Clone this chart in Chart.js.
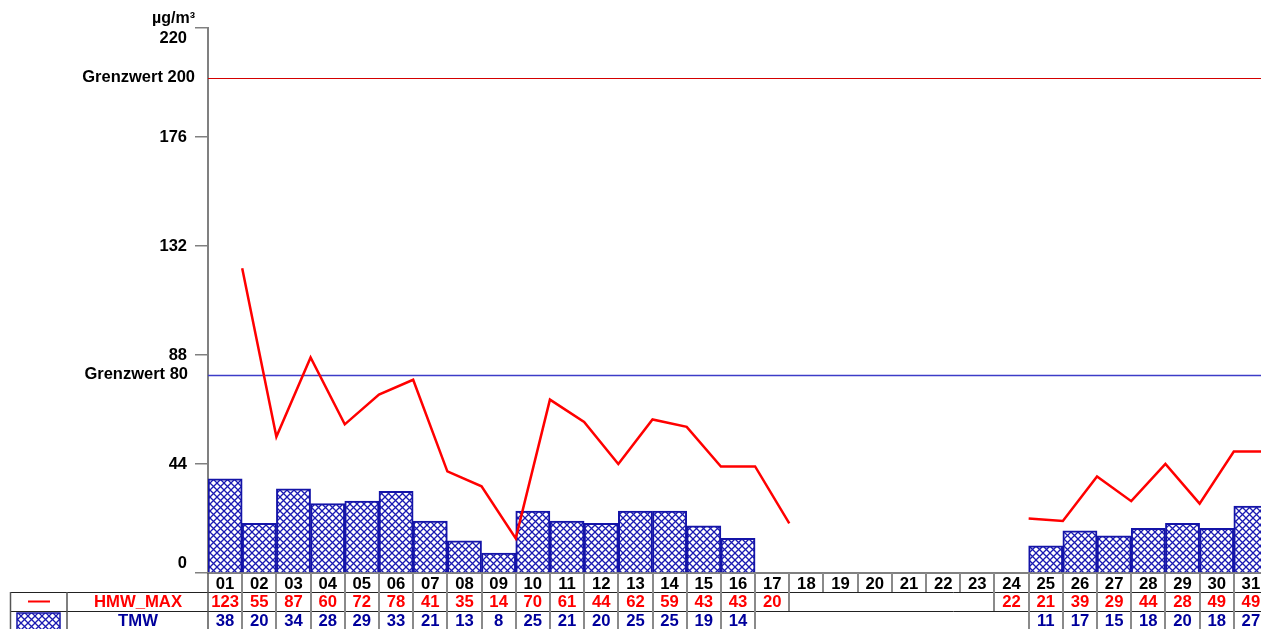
<!DOCTYPE html>
<html>
<head>
<meta charset="utf-8">
<script src="https://cdn.jsdelivr.net/npm/chart.js@4/dist/chart.umd.min.js"></script>
<style>
  html, body { margin: 0; padding: 0; overflow: hidden; background: #fff; }
</style>
</head>
<body>
<canvas id="grafikMonat" width="1268" height="629"></canvas>
<script>
// Daten (Tage des Monats)
const tage = ['01','02','03','04','05','06','07','08','09','10','11','12','13','14','15','16',
              '17','18','19','20','21','22','23','24','25','26','27','28','29','30','31'];
const hmwMax = [123, 55, 87, 60, 72, 78, 41, 35, 14, 70, 61, 44, 62, 59, 43, 43,
                20, null, null, null, null, null, null, 22, 21, 39, 29, 44, 28, 49, 49];
const tmw = [38, 20, 34, 28, 29, 33, 21, 13, 8, 25, 21, 20, 25, 25, 19, 14,
             null, null, null, null, null, null, null, null, 11, 17, 15, 18, 20, 18, 27];
const yTicks = [0, 44, 88, 132, 176, 220];
const grenzWerte = [200, 80];
const grenzTexte = ['Grenzwert 200', 'Grenzwert 80'];

const FONT_ACHSE = 'bold 16.5px "Liberation Sans", Arial, sans-serif';
const FONT_TAB = 'bold 16.7px "Liberation Sans", Arial, sans-serif';
const ROT = '#ff0000';
const BLAU = '#00009c';
const RAND = '#1414a8';

// Kreuzschraffur fuer die Balken
function schraffur() {
  const s = 7;
  const c = document.createElement('canvas');
  c.width = c.height = s;
  const g = c.getContext('2d');
  g.fillStyle = '#fff';
  g.fillRect(0, 0, s, s);
  g.strokeStyle = '#1a1ab2';
  g.lineWidth = 1.3;
  g.beginPath();
  g.moveTo(0, 0); g.lineTo(s, s);
  g.moveTo(s, 0); g.lineTo(0, s);
  g.stroke();
  return g.createPattern(c, 'repeat');
}
const muster = schraffur();

// Grenzwertlinien, Achsenbeschriftung und Tabelle unten
const zusatz = {
  id: 'zusatz',
  beforeDatasetsDraw(chart) {
    const { ctx, chartArea: a, scales: { y } } = chart;
    ctx.save();
    grenzWerte.forEach((w, i) => {
      const py = Math.round(y.getPixelForValue(w)) + 0.5;
      ctx.strokeStyle = i === 0 ? '#d40000' : '#3c3cc8';
      ctx.lineWidth = i === 0 ? 1 : 1.5;
      ctx.beginPath();
      ctx.moveTo(a.left, py);
      ctx.lineTo(a.right, py);
      ctx.stroke();
    });
    ctx.restore();
  },
  afterDraw(chart) {
    const { ctx, chartArea: a, scales: { x, y } } = chart;
    ctx.save();
    ctx.font = FONT_ACHSE;
    ctx.textBaseline = 'middle';

    // y-Beschriftung
    ctx.fillStyle = '#000';
    ctx.textAlign = 'right';
    yTicks.forEach((v, i) => {
      let py = y.getPixelForValue(v);
      if (i === 0) py -= 10;
      if (i === yTicks.length - 1) py += 10;
      ctx.fillText(String(v), 187, py);
    });
    grenzWerte.forEach((w, i) => {
      ctx.fillText(grenzTexte[i], i === 0 ? 195 : 188, y.getPixelForValue(w));
    });
    ctx.font = 'bold 16px "Liberation Sans", Arial, sans-serif';
    ctx.fillText('µg/m³', 195, 19);
    ctx.font = FONT_TAB;

    // Tabelle
    const w = (a.right - a.left) / tage.length;
    const r0 = a.bottom, r1 = r0 + 19, r2 = r1 + 19, r3 = r2 + 19;
    const links = (i) => x.getPixelForValue(i) - w / 2;

    // waagrechte Linien
    ctx.strokeStyle = '#222';
    ctx.lineWidth = 1;
    [r1, r2].forEach(r => {
      ctx.beginPath();
      ctx.moveTo(10, r + 0.5);
      ctx.lineTo(chart.width, r + 0.5);
      ctx.stroke();
    });
    // Legendenspalte
    ctx.strokeStyle = '#555';
    ctx.lineWidth = 1.5;
    [10.5, 67, 208].forEach(px => {
      ctx.beginPath();
      ctx.moveTo(px, r1);
      ctx.lineTo(px, r3);
      ctx.stroke();
    });
    ctx.beginPath();
    ctx.moveTo(208, r0);
    ctx.lineTo(208, r1);
    ctx.stroke();

    // senkrechte Trenner
    ctx.strokeStyle = '#8a8a8a';
    ctx.lineWidth = 2;
    const hat = (arr, i) => i >= 0 && i < arr.length && arr[i] !== null;
    for (let i = 1; i <= tage.length; i++) {
      const px = Math.round(links(0) + i * w);
      ctx.beginPath(); ctx.moveTo(px, r0); ctx.lineTo(px, r1); ctx.stroke();
      if (hat(hmwMax, i - 1) || hat(hmwMax, i)) {
        ctx.beginPath(); ctx.moveTo(px, r1); ctx.lineTo(px, r2); ctx.stroke();
      }
      if (hat(tmw, i - 1) || hat(tmw, i)) {
        ctx.beginPath(); ctx.moveTo(px, r2); ctx.lineTo(px, r3); ctx.stroke();
      }
    }

    // Texte
    ctx.textAlign = 'center';
    tage.forEach((t, i) => {
      const cx = x.getPixelForValue(i);
      ctx.fillStyle = '#000';
      ctx.fillText(t, cx, r0 + 11);
      if (hmwMax[i] !== null) { ctx.fillStyle = ROT; ctx.fillText(String(hmwMax[i]), cx, r1 + 10.5); }
      if (tmw[i] !== null) { ctx.fillStyle = BLAU; ctx.fillText(String(tmw[i]), cx, r2 + 10.5); }
    });
    ctx.fillStyle = ROT;
    ctx.fillText('HMW_MAX', 138, r1 + 10.5);
    ctx.fillStyle = BLAU;
    ctx.fillText('TMW', 138, r2 + 10.5);

    // Legendensymbole
    ctx.strokeStyle = ROT;
    ctx.lineWidth = 2;
    ctx.beginPath(); ctx.moveTo(28, r1 + 9.5); ctx.lineTo(50, r1 + 9.5); ctx.stroke();
    ctx.fillStyle = muster;
    ctx.fillRect(17, r2 + 2, 43, 17);
    ctx.strokeStyle = RAND;
    ctx.lineWidth = 1.5;
    ctx.strokeRect(17, r2 + 2, 43, 17);
    ctx.restore();
  }
};

new Chart(document.getElementById('grafikMonat'), {
  data: {
    labels: tage,
    datasets: [
      {
        type: 'line',
        label: 'HMW_MAX',
        data: hmwMax.map((v, i) => ({ x: i + 1, y: v })),
        xAxisID: 'x2',
        borderColor: ROT,
        borderWidth: 2.5,
        pointRadius: 0,
        spanGaps: false,
        tension: 0,
        order: 0
      },
      {
        type: 'bar',
        label: 'TMW',
        data: tmw,
        xAxisID: 'x',
        backgroundColor: muster,
        borderColor: RAND,
        borderWidth: 2,
        grouped: false,
        categoryPercentage: 1,
        barPercentage: 1,
        order: 1
      }
    ]
  },
  options: {
    responsive: false,
    animation: false,
    layout: { padding: { top: 28, bottom: 56, left: 0, right: 0 } },
    scales: {
      x: {
        type: 'category',
        offset: true,
        ticks: { display: false },
        grid: { display: false },
        border: { color: '#808080', width: 2 },
        afterFit: (s) => { s.height = 0; }
      },
      x2: {
        type: 'linear',
        min: 0,
        max: 31,
        display: false,
        offset: false
      },
      y: {
        min: 0,
        max: 220,
        afterBuildTicks: (s) => { s.ticks = yTicks.map(v => ({ value: v })); },
        ticks: { display: false },
        grid: { drawOnChartArea: false, tickLength: 13, color: '#808080', lineWidth: 1.5 },
        border: { color: '#808080', width: 2 },
        afterFit: (s) => { s.width = 208; }
      }
    },
    plugins: {
      legend: { display: false },
      tooltip: { enabled: false }
    }
  },
  plugins: [zusatz]
});
</script>
</body>
</html>
